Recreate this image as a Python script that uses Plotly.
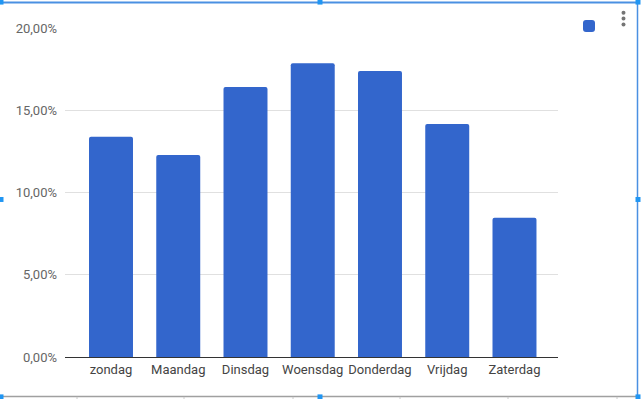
import plotly.graph_objects as go

days = ["zondag", "Maandag", "Dinsdag", "Woensdag", "Donderdag", "Vrijdag", "Zaterdag"]
shares = [0.1339, 0.1228, 0.1641, 0.1785, 0.1738, 0.1416, 0.0847]
y_ticks = [0, 0.05, 0.10, 0.15, 0.20]

W, H = 641, 399
L, R, T, B = 65, 558, 27, 357  # plot area in pixels


def px(x):
    return (x - L) / (R - L)


def py(y):
    return (B - y) / (B - T)


fig = go.Figure()
fig.add_trace(go.Bar(
    x=days, y=shares, name="",
    marker=dict(color="#3366cc", line=dict(width=0)),
    showlegend=True,
))

shapes = []
blue = "#4a90e2"
# selection frame
shapes.append(dict(type="line", xref="paper", yref="paper", x0=px(2), x1=px(637), y0=py(1.5), y1=py(1.5),
                   line=dict(color=blue, width=2)))
shapes.append(dict(type="line", xref="paper", yref="paper", x0=px(637.5), x1=px(637.5), y0=py(1), y1=py(397),
                   line=dict(color=blue, width=1.5)))
shapes.append(dict(type="line", xref="paper", yref="paper", x0=px(2), x1=px(637), y0=py(396.5), y1=py(396.5),
                   line=dict(color="#a0a0a0", width=1.5)))
for tx in [77, 184, 293, 400, 508, 617]:
    shapes.append(dict(type="line", xref="paper", yref="paper", x0=px(tx), x1=px(tx), y0=py(397), y1=py(400),
                       line=dict(color="#c8c8c8", width=1)))
for hx, hy in [(1, 1), (320, 1), (638, 1), (1, 199), (638, 199), (1, 397), (320, 397), (638, 397)]:
    shapes.append(dict(type="rect", xref="paper", yref="paper", x0=px(hx - 2.5), x1=px(hx + 2.5),
                       y0=py(hy - 2.5), y1=py(hy + 2.5), fillcolor="#2196f3", line=dict(width=0)))
# menu dots
for dy in [11.7, 17.5, 23.5]:
    shapes.append(dict(type="circle", xref="paper", yref="paper", x0=px(621.5), x1=px(625.5),
                       y0=py(dy - 2), y1=py(dy + 2), fillcolor="#757575", line=dict(width=0)))

fig.update_layout(
    width=W, height=H,
    margin=dict(l=L, r=W - R, t=T, b=H - B, pad=0),
    paper_bgcolor="white", plot_bgcolor="white",
    separators=",.",
    font=dict(family="Roboto, Arial, sans-serif", size=13, color="#444"),
    bargap=0.346,
    barcornerradius=2,
    shapes=shapes,
    showlegend=True,
    legend=dict(x=px(569), y=py(11), xanchor="left", yanchor="top",
                bgcolor="rgba(0,0,0,0)", font=dict(size=13)),
    xaxis=dict(range=[-0.684, 6.647], showgrid=False, showline=False, ticks="",
               tickfont=dict(color="#444", size=13), zeroline=False,
               ticklabelstandoff=3),
    yaxis=dict(range=[0, 0.2], tickvals=y_ticks, tickformat=".2%",
               showgrid=True, gridcolor="#e0e0e0", gridwidth=1,
               zeroline=True, zerolinecolor="#333", zerolinewidth=1,
               showline=False, ticks="", ticklabelstandoff=7,
               tickfont=dict(color="#666", size=13)),
)

fig.write_html("out.html", config={"displayModeBar": False},
               post_script="document.body.style.margin='0';document.body.style.overflow='hidden';")
